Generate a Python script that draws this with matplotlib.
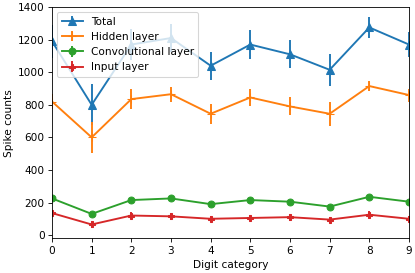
import matplotlib
matplotlib.use('Agg')
import matplotlib.pyplot as plt

digits = [0, 1, 2, 3, 4, 5, 6, 7, 8, 9]

total = [1190, 800, 1170, 1210, 1040, 1170, 1110, 1015, 1275, 1170]
total_err = [100, 125, 95, 85, 85, 90, 85, 100, 65, 75]

hidden = [820, 600, 835, 865, 745, 845, 790, 745, 915, 860]
hidden_err = [45, 95, 60, 45, 60, 55, 55, 75, 30, 40]

conv = [225, 130, 215, 225, 190, 215, 205, 175, 235, 205]
conv_err = [12, 10, 12, 10, 10, 12, 10, 10, 12, 10]

inp = [135, 65, 120, 115, 100, 105, 110, 95, 125, 100]
inp_err = [20, 20, 20, 20, 18, 20, 22, 18, 22, 18]

# default sizes, drawn at a low dpi so the whole thing comes out small
fig, ax = plt.subplots(figsize=(5.4606, 3.5922), dpi=76)
fig.subplots_adjust(left=0.1253, right=0.9855, top=0.974, bottom=0.127)

ax.errorbar(digits, total, yerr=total_err, marker='^', ms=7, lw=1.8, label='Total')
ax.errorbar(digits, hidden, yerr=hidden_err, marker='+', ms=7, lw=1.8, label='Hidden layer')
ax.errorbar(digits, conv, yerr=conv_err, marker='o', ms=6.5, lw=1.8, label='Convolutional layer')
ax.errorbar(digits, inp, yerr=inp_err, marker='P', ms=5.5, lw=1.8, label='Input layer')

ax.set_xlim(0, 9)
ax.set_ylim(-20, 1400)
ax.set_xticks(digits)
ax.set_xlabel('Digit category')
ax.set_ylabel('Spike counts')
ax.legend(loc='upper left')

fig.savefig('out.png')
